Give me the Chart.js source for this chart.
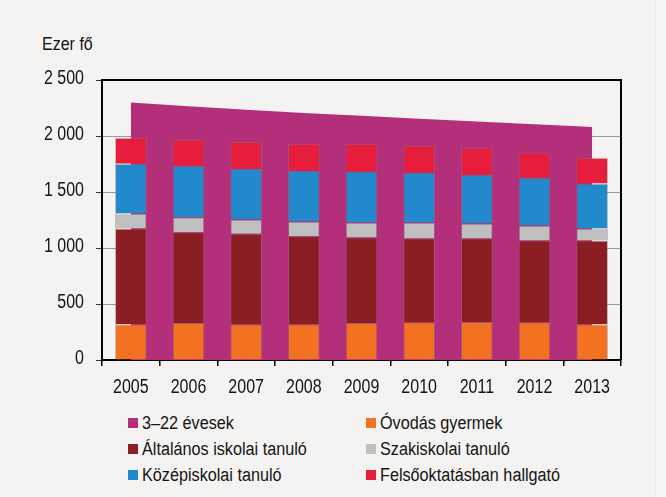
<!DOCTYPE html>
<html>
<head>
<meta charset="utf-8">
<script src="https://cdn.jsdelivr.net/npm/chart.js@4/dist/chart.umd.min.js"></script>
<style>
body{margin:0;background:#f4f3f1;width:666px;height:497px;overflow:hidden;position:relative;font-family:"Liberation Sans",Arial,sans-serif;color:#141414}
#wrap{position:absolute;left:0;top:0}
#unit{position:absolute;left:42px;top:34px;font-size:18px;transform:scaleX(.89);transform-origin:left center}
#legend{position:absolute;left:128px;top:412px;display:grid;grid-template-columns:238px 260px;row-gap:4px;font-size:18px}
#legend div{display:flex;align-items:center;height:22px;white-space:nowrap}
#legend span{display:inline-block;width:10px;height:10px;margin-right:4px;flex:none}
#legend b{font-weight:normal;display:inline-block;transform:scaleX(.9);transform-origin:left center}
#edge{position:absolute;left:655px;top:0;width:11px;height:497px;background:#f7f7f7;border-left:1px solid #ebebeb}
</style>
</head>
<body>
<div id="unit">Ezer fő</div>
<div id="wrap"><canvas id="myChart" width="666" height="400"></canvas></div>
<div id="legend"></div>
<div id="edge"></div>
<script>
const years=['2005','2006','2007','2008','2009','2010','2011','2012','2013'];
const age3to22=[2300,2265,2235,2205,2180,2155,2130,2105,2080];
const ovodas=[320,330,320,320,330,338,340,338,320];
const altalanos=[854,810,808,785,764,747,745,730,748];
const szakiskolai=[134,135,126,132,134,143,134,133,106];
const kozepiskolai=[445,460,454,453,454,445,436,427,401];
const felsooktatas=[232,231,240,240,248,240,240,222,231];
const yTicks=[0,500,1000,1500,2000,2500];

const names=['3–22 évesek','Óvodás gyermek','Általános iskolai tanuló','Szakiskolai tanuló','Középiskolai tanuló','Felsőoktatásban hallgató'];
const colors=['#b32f79','#f37221','#8b1e23','#bfbfbf','#2389cd','#e61e3b'];

const fmt=v=>String(v).replace(/\B(?=(\d{3})+(?!\d))/g,' ');

function bar(label,data,color){
  return {type:'bar',label:label,data:data,backgroundColor:color,borderColor:'rgba(130,130,130,0.45)',
    borderWidth:1,stack:'s',order:1,barPercentage:0.55,categoryPercentage:1}
}

// frame on top/right + narrow tick labels (the source uses a condensed face)
const frame={
  id:'frame',
  afterDraw(chart){
    const a=chart.chartArea,c=chart.ctx;
    c.save();c.strokeStyle='#000';c.lineWidth=2;
    c.beginPath();c.moveTo(a.left,a.top);c.lineTo(a.right,a.top);c.lineTo(a.right,a.bottom);c.stroke();
    c.restore();
    const xs=chart.scales.x,ys=chart.scales.y;
    c.save();
    c.font='20px "Liberation Sans", Arial, sans-serif';
    c.fillStyle='#141414';
    c.textBaseline='middle';
    xs.ticks.forEach((t,i)=>{
      c.save();c.translate(xs.getPixelForTick(i),a.bottom+27);c.scale(0.8,1);
      c.textAlign='center';c.fillText(xs.getLabelForValue(t.value),0,0);c.restore();
    });
    ys.ticks.forEach(t=>{
      c.save();c.translate(a.left-18,ys.getPixelForValue(t.value)-2);c.scale(0.8,1);
      c.textAlign='right';c.fillText(fmt(t.value),0,0);c.restore();
    });
    c.restore();
  }
};

const ctx=document.getElementById('myChart');
new Chart(ctx,{
  data:{
    labels:years,
    datasets:[
      {type:'line',label:names[0],data:age3to22,backgroundColor:colors[0],borderWidth:0,pointRadius:0,
        fill:'origin',tension:0,stack:'pop',order:10},
      bar(names[1],ovodas,colors[1]),
      bar(names[2],altalanos,colors[2]),
      bar(names[3],szakiskolai,colors[3]),
      bar(names[4],kozepiskolai,colors[4]),
      bar(names[5],felsooktatas,colors[5])
    ]
  },
  options:{
    responsive:false,
    animation:false,
    layout:{padding:{top:80,right:45,left:0,bottom:0}},
    plugins:{legend:{display:false},tooltip:{enabled:false}},
    scales:{
      x:{
        stacked:true,offset:true,
        afterFit:s=>{s.height=40},
        grid:{display:true,drawOnChartArea:false,offset:true,color:'#000',tickLength:6,lineWidth:1.5},
        border:{color:'#000',width:2},
        ticks:{display:false}
      },
      y:{
        stacked:true,min:0,max:2500,
        afterFit:s=>{s.width=102},
        afterBuildTicks:s=>{s.ticks=yTicks.map(v=>({value:v}))},
        grid:{color:'#9a9a9a',lineWidth:1,tickLength:6,tickColor:'#333'},
        border:{color:'#000',width:2},
        ticks:{display:false}
      }
    }
  },
  plugins:[frame]
});

const lg=document.getElementById('legend');
names.forEach((n,i)=>{
  const d=document.createElement('div');
  d.innerHTML=`<span style="background:${colors[i]}"></span><b>${n}</b>`;
  lg.appendChild(d);
});
</script>
</body>
</html>
